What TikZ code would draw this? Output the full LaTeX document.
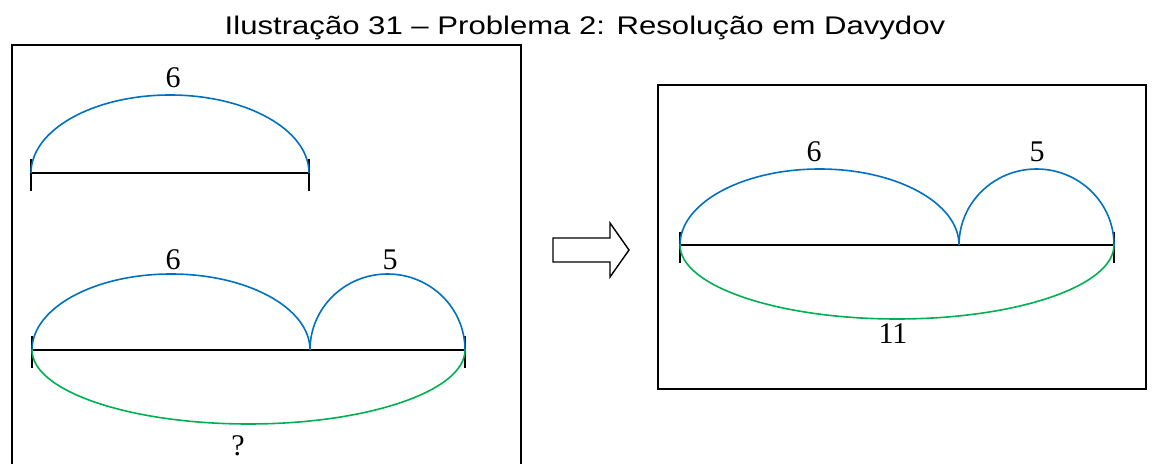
\documentclass[tikz,border=0pt]{standalone}
\usepackage{fontspec}
\setmainfont{Liberation Serif}
\newfontfamily\titlefont{Liberation Sans}
\definecolor{arcblue}{RGB}{0,112,192}
\definecolor{arcgreen}{RGB}{0,176,80}
\tikzset{
  frame/.style={draw=black, line width=1.6pt},
  seg/.style={draw=black, line width=1.6pt},
  tick/.style={draw=black, line width=1.8pt},
  bluearc/.style={draw=arcblue, line width=1.6pt},
  greenarc/.style={draw=arcgreen, line width=1.6pt},
  num/.style={font=\fontsize{30}{32}\selectfont, inner sep=0pt},
  blockarrow/.style={draw=black, line width=1.4pt, fill=white, line join=miter},
}
\begin{document}
\begin{tikzpicture}[x=1pt,y=1pt]
\useasboundingbox (0,0) rectangle (1158,463);
\clip (0,0) rectangle (1158,463);
% title
\node[font=\titlefont\fontsize{25.5}{30}\selectfont, inner sep=0pt, anchor=base] (title) at (585,428) {\scalebox{1.22}[1]{Ilustração 31 – Problema 2: Resolução em Davydov}};
% left frame
\draw[frame] (12,-10) -- (12,418) -- (521,418) -- (521,-10);
% top-left diagram
\coordinate (a1) at (31,290);
\coordinate (b1) at (309,290);
\draw[seg] (a1) -- (b1);
\draw[tick] ([yshift=14]a1) -- ([yshift=-18]a1);
\draw[tick] ([yshift=14]b1) -- ([yshift=-18]b1);
\draw[bluearc] (a1) arc[start angle=180, end angle=0, x radius=139, y radius=78];
\node[num] (l6a) at (173,385) {6};
% bottom-left diagram
\coordinate (a2) at (32,113);
\coordinate (m2) at (310,113);
\coordinate (b2) at (465,113);
\draw[seg] (a2) -- (b2);
\draw[tick] ([yshift=14]a2) -- ([yshift=-18]a2);
\draw[tick] ([yshift=14]b2) -- ([yshift=-18]b2);
\draw[bluearc] (a2) arc[start angle=180, end angle=0, x radius=139, y radius=76];
\draw[bluearc] (m2) arc[start angle=180, end angle=0, x radius=77.5, y radius=76];
\draw[greenarc] (a2) arc[start angle=180, end angle=360, x radius=216.5, y radius=74];
\node[num] (l6b) at (173,203) {6};
\node[num] (l5b) at (390,203) {5};
\node[num] (lq) at (238,17) {?};
% block arrow
\draw[blockarrow] (553,225) -- (610,225) -- (610,240) -- (629,213) -- (610,186) -- (610,201) -- (553,201) -- cycle;
% right frame
\draw[frame] (658,378) rectangle (1146,74);
% right diagram
\coordinate (a3) at (680,218);
\coordinate (m3) at (959,218);
\coordinate (b3) at (1114,218);
\draw[seg] (a3) -- (b3);
\draw[tick] ([yshift=13]a3) -- ([yshift=-18]a3);
\draw[tick] ([yshift=13]b3) -- ([yshift=-18]b3);
\draw[bluearc] (a3) arc[start angle=180, end angle=0, x radius=139.5, y radius=76];
\draw[bluearc] (m3) arc[start angle=180, end angle=0, x radius=77.5, y radius=76];
\draw[greenarc] (a3) arc[start angle=180, end angle=360, x radius=217, y radius=74];
\node[num] (l6c) at (814,311) {6};
\node[num] (l5c) at (1037,311) {5};
\node[num] (l11) at (893,129) {11};
\end{tikzpicture}
\end{document}
